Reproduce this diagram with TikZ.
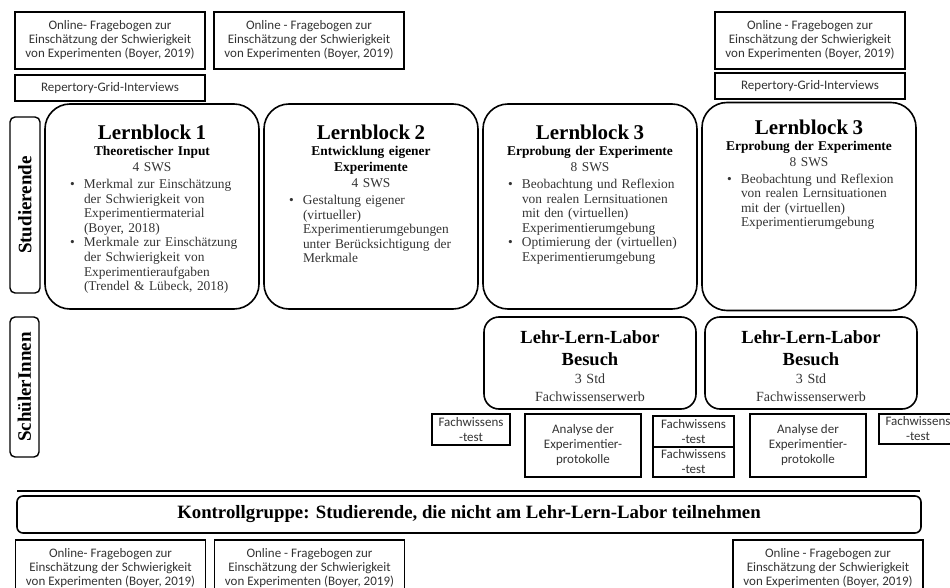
\documentclass[tikz,border=0pt]{standalone}
\usepackage{fontspec}
\setmainfont{Liberation Serif}
\newfontfamily\calibri{Carlito}
\usetikzlibrary{positioning}
\tikzstyle{frage} = [draw, line width=1.8pt, outer sep=0pt, inner sep=0pt, minimum width=190pt, minimum height=57pt, align=center, text=black!80, font=\calibri\fontsize{13}{14}\selectfont]
\tikzstyle{repgrid} = [draw, line width=1.8pt, outer sep=0pt, inner sep=0pt, minimum width=190pt, minimum height=26pt, text=black!80, font=\calibri\fontsize{13}{14}\selectfont]
\tikzstyle{block} = [draw, line width=1.6pt, outer sep=0pt, inner sep=0pt, rounded corners=25pt, minimum width=214pt, minimum height=205pt]
\tikzstyle{blocktext} = [outer sep=0pt, inner sep=0pt, text width=180pt, align=center, text=black!80, font=\fontsize{13.4}{14.6}\selectfont]
\tikzstyle{gruppe} = [draw, line width=1.4pt, outer sep=0pt, inner sep=0pt, rounded corners=5pt, rotate=90, font=\fontsize{19}{20}\selectfont\bfseries]
\tikzstyle{labor} = [draw, line width=1.6pt, outer sep=0pt, inner sep=0pt, rounded corners=15pt, minimum width=212pt, minimum height=92pt]
\tikzstyle{labortext} = [outer sep=0pt, inner sep=0pt, text width=200pt, align=center, text=black!80, font=\fontsize{14}{18}\selectfont]
\tikzstyle{test} = [draw, line width=1.6pt, outer sep=0pt, inner sep=0pt, align=center, text=black!80, font=\calibri\fontsize{13}{15}\selectfont]
\newcommand{\titel}[1]{{\color{black}\fontsize{21}{24}\selectfont\bfseries #1\par}}
\newcommand{\unter}[1]{{\color{black}\fontsize{13.4}{16}\selectfont\bfseries #1\par}}
\newcommand{\sws}[1]{{\fontsize{13.4}{16}\selectfont #1\par}\vspace{2.4pt}}
\newcommand{\punkt}[1]{{\raggedright\hangindent=22pt\hangafter=1\noindent\makebox[22pt][l]{\hspace{8pt}\textbullet}#1\par}}
\newcommand{\boyer}{Einschätzung der Schwierigkeit\\von Experimenten (Boyer, 2019)}
\newcommand{\besuch}{{\color{black}\fontsize{18.5}{22}\selectfont\bfseries Lehr-Lern-Labor\\Besuch\par}3 Std\\Fachwissenserwerb}

\begin{document}
\begin{tikzpicture}[x=1pt, y=-1pt, node distance=5pt]
\useasboundingbox (0,0) rectangle (950,588);
\clip (0,0) rectangle (950,588);
\node (onlA) [frage] at (110,40.5) {Online- Fragebogen zur\\\boyer};
\node (onlB) [frage, right=9pt of onlA] {Online - Fragebogen zur\\\boyer};
\node (onlC) [frage] at (810,40.5) {Online - Fragebogen zur\\\boyer};
\node (repA) [repgrid, below=6pt of onlA] {Repertory-Grid-Interviews};
\node (repC) [repgrid, below=4pt of onlC] {Repertory-Grid-Interviews};
\node (stud) [gruppe, minimum width=176pt, minimum height=30pt] at (25,205) {Studierende};
\node (schue) [gruppe, minimum width=140pt, minimum height=29pt] at (24.5,387) {SchülerInnen};
\node (lbA) [block] at (152,206.5) {};
\node (lbB) [block, right of=lbA, node distance=219pt] {};
\node (lbC) [block, right of=lbB, node distance=219pt] {};
\node (lbD) [block, right of=lbC, node distance=219pt, minimum height=208pt] {};
\node (lbAtext) [blocktext, below=21pt of lbA.north] {\titel{Lernblock 1}\unter{Theoretischer Input}\sws{4 SWS}
\punkt{Merkmal zur Einschätzung\newline der Schwierigkeit von\newline Experimentiermaterial\newline (Boyer, 2018)}
\punkt{Merkmale zur Einschätzung\newline der Schwierigkeit von\newline Experimentieraufgaben\newline (Trendel \& Lübeck, 2018)}};
\node (lbBtext) [blocktext, below=21pt of lbB.north] {\titel{Lernblock 2}\unter{Entwicklung eigener\\Experimente}\sws{4 SWS}
\punkt{Gestaltung eigener\newline (virtueller)\newline Experimentierumgebungen\newline unter Berücksichtigung der\newline Merkmale}};
\node (lbCtext) [blocktext, below=21pt of lbC.north] {\titel{Lernblock 3}\unter{Erprobung der Experimente}\sws{8 SWS}
\punkt{Beobachtung und Reflexion\newline von realen Lernsituationen\newline mit den (virtuellen)\newline Experimentierumgebung}
\punkt{Optimierung der (virtuellen)\newline Experimentierumgebung}};
\node (lbDtext) [blocktext, below=17pt of lbD.north] {\titel{Lernblock 3}\unter{Erprobung der Experimente}\sws{8 SWS}
\punkt{Beobachtung und Reflexion\newline von realen Lernsituationen\newline mit der (virtuellen)\newline Experimentierumgebung}};
\node (lllA) [labor, below=8pt of lbC] {};
\node (lllB) [labor, right=9pt of lllA] {};
\node (lllAtext) [labortext, below=14pt of lllA.north] {\besuch};
\node (lllBtext) [labortext, below=14pt of lllB.north] {\besuch};
\node (fwA) [test, minimum width=78pt, minimum height=31pt] at (471,429.5) {Fachwissens\\-test};
\node (anaA) [test, minimum width=116pt, minimum height=63pt] at (583,445.5) {Analyse der\\Experimentier-\\protokolle};
\node (fwB) [test, minimum width=81pt, minimum height=31pt] at (693.5,431.5) {Fachwissens\\-test};
\node (fwBb) [test, minimum width=81pt, minimum height=30pt, below=0pt of fwB] {Fachwissens\\-test};
\node (anaB) [test, minimum width=116pt, minimum height=63pt] at (808,445.5) {Analyse der\\Experimentier-\\protokolle};
\node (fwC) [test, minimum width=78pt, minimum height=30pt] at (918,429) {Fachwissens\\-test};
\coordinate (trennL) at (17,491);
\coordinate (trennR) at (920,491);
\draw[line width=2.5pt] (trennL) -- (trennR);
\node (kontroll) [draw, line width=1.6pt, outer sep=0pt, rounded corners=6pt, minimum width=904pt, minimum height=37pt, font=\fontsize{18.8}{20}\selectfont\bfseries] at (469,514.5) {Kontrollgruppe: Studierende, die nicht am Lehr-Lern-Labor teilnehmen};
\node (onlD) [frage] at (110.5,568.5) {Online- Fragebogen zur\\\boyer};
\node (onlE) [frage, right=9pt of onlD] {Online - Fragebogen zur\\\boyer};
\node (onlF) [frage] at (828,568.5) {Online - Fragebogen zur\\\boyer};
\end{tikzpicture}
\end{document}
